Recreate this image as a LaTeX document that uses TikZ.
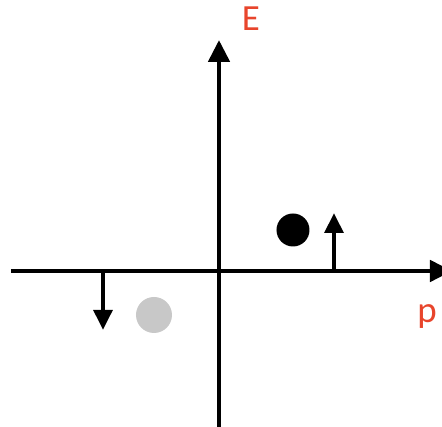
\documentclass[tikz,border=0pt]{standalone}
\usepackage{fontspec}
\setmainfont{Carlito}
\usetikzlibrary{positioning,arrows.meta}
\definecolor{flame}{HTML}{E8452C}
\definecolor{ash}{HTML}{C8C8C8}
\tikzset{
  axis/.style={line width=0.95mm,-{Triangle[length=4.4mm,width=4.2mm]}},
  spin/.style={line width=0.85mm,-{Triangle[length=4mm,width=3.7mm]}},
  particle/.style={circle,inner sep=0pt,minimum size=6.6mm},
  axislabel/.style={text=flame,anchor=base,inner sep=0pt,font=\fontsize{21}{25}\selectfont}
}

\begin{document}
\begin{tikzpicture}[x=0.2mm,y=0.2mm]
    \useasboundingbox (-219,-156) rectangle (223,271);

    \coordinate (origin) at (0,0);
    \coordinate (pstart) at (-208,0);
    \coordinate (pend) at (233,0);
    \coordinate (estart) at (0,-160);
    \coordinate (eend) at (0,231);

    \draw[axis] (pstart) -- (pend);
    \draw[axis] (estart) -- (eend);

    \node[axislabel] (elabel) at (32,240) {E};
    \node[axislabel] (plabel) at (208,-52) {p};

    % electron above, hole below
    \node[particle,fill=black] (electron) at (74,41) {};
    \node[particle,fill=ash,minimum size=7.2mm] (hole) at (-65,-44) {};

    \coordinate (upfoot) at (115,0);
    \coordinate (uptip) at (115,58);
    \coordinate (downfoot) at (-116,0);
    \coordinate (downtip) at (-116,-59);
    \draw[spin] (upfoot) -- (uptip);
    \draw[spin] (downfoot) -- (downtip);
\end{tikzpicture}
\end{document}
